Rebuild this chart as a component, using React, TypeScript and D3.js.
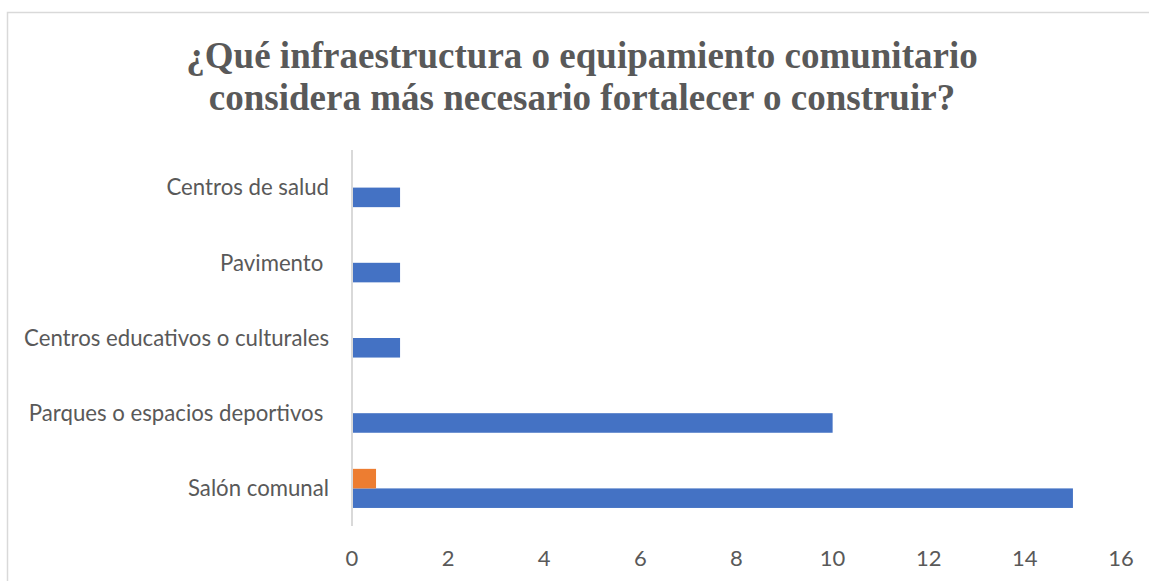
import { useEffect, useRef } from "react";
import * as d3 from "d3";

// categorías, de arriba hacia abajo
const categories = [
  "Centros de salud",
  "Pavimento ",
  "Centros educativos o culturales",
  "Parques o espacios deportivos ",
  "Salón comunal",
];
const serie1 = [1, 1, 1, 10, 15];
const serie2 = [0, 0, 0, 0, 0.5];
const xTicks = [0, 2, 4, 6, 8, 10, 12, 14, 16];
const titleLines = [
  "¿Qué infraestructura o equipamiento comunitario",
  "considera más necesario fortalecer o construir?",
];

function App() {
  const ref = useRef<SVGSVGElement | null>(null);

  useEffect(() => {
    const svg = d3.select(ref.current);
    svg.selectAll("*").remove();

    const width = 1149,
      height = 581;

    // marco del gráfico
    svg
      .append("rect")
      .attr("x", 7.5)
      .attr("y", 12.5)
      .attr("width", width + 20)
      .attr("height", height + 20)
      .attr("fill", "#fff")
      .attr("stroke", "#d9d9d9")
      .attr("stroke-width", 1.5);

    svg
      .append("g")
      .selectAll("text")
      .data(titleLines)
      .enter()
      .append("text")
      .attr("x", 582)
      .attr("y", (d, i) => 68 + i * 42)
      .attr("text-anchor", "middle")
      .attr("font-family", "'Liberation Serif', 'Times New Roman', serif")
      .attr("font-weight", "bold")
      .attr("font-size", "37px")
      .attr("fill", "#595959")
      .text((d) => d);

    const x = d3.scaleLinear().domain([0, 16]).range([352, 1121]);

    const y = d3
      .scaleBand()
      .domain(categories)
      .range([150, 526])
      .paddingInner(0.48)
      .paddingOuter(0.24);

    const ySub = d3
      .scaleBand()
      .domain(["s2", "s1"])
      .range([0, y.bandwidth()]);

    // barras
    const series = [
      { key: "s1", values: serie1, color: "#4472C4" },
      { key: "s2", values: serie2, color: "#ED7D31" },
    ];

    series.forEach((s) => {
      svg
        .append("g")
        .selectAll("rect")
        .data(categories.map((c, i) => ({ c, v: s.values[i] })).filter((d) => d.v > 0))
        .enter()
        .append("rect")
        .attr("x", x(0))
        .attr("y", (d) => (y(d.c) as number) + (ySub(s.key) as number))
        .attr("width", (d) => x(d.v) - x(0))
        .attr("height", ySub.bandwidth())
        .attr("fill", s.color);
    });

    // eje vertical
    svg
      .append("line")
      .attr("x1", x(0))
      .attr("x2", x(0))
      .attr("y1", 150)
      .attr("y2", 526)
      .attr("stroke", "#d9d9d9")
      .attr("stroke-width", 2);

    // etiquetas de categorías
    svg
      .append("g")
      .selectAll("text")
      .data(categories)
      .enter()
      .append("text")
      .attr("x", 329)
      .attr("y", (d) => (y(d) as number) + y.bandwidth() / 2)
      .attr("dy", "0.35em")
      .attr("text-anchor", "end")
      .attr("font-family", "Lato, 'Open Sans', sans-serif")
      .attr("font-size", "22.2px")
      .attr("fill", "#595959")
      .style("white-space", "pre")
      .text((d) => d);

    // etiquetas del eje x
    svg
      .append("g")
      .selectAll("text")
      .data(xTicks)
      .enter()
      .append("text")
      .attr("x", (d) => x(d))
      .attr("y", 566)
      .attr("text-anchor", "middle")
      .attr("font-family", "Lato, 'Open Sans', sans-serif")
      .attr("font-size", "22px")
      .attr("fill", "#595959")
      .text((d) => d);
  }, []);

  return (
    <svg
      ref={ref}
      width={1149}
      height={581}
      style={{ position: "absolute", left: 0, top: 0 }}
    />
  );
}

export default App;
